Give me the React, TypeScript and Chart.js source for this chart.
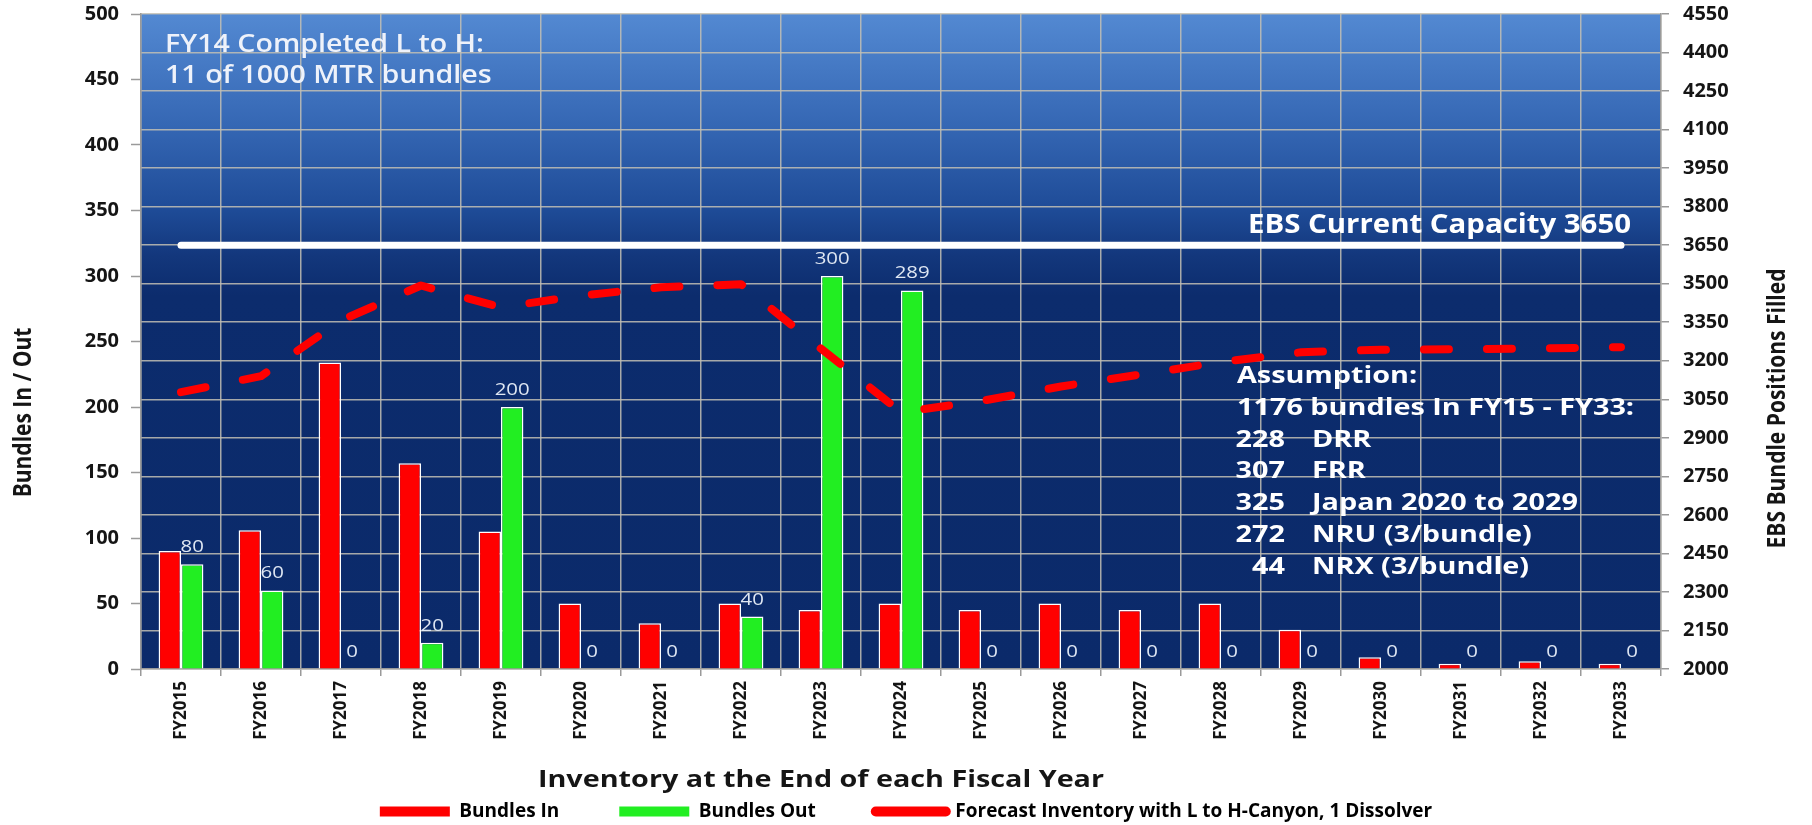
import React, { useEffect, useRef } from 'react';
import { Chart, registerables } from 'chart.js';

Chart.register(...registerables);

// ---------------- data ----------------
const categories = [
  'FY2015', 'FY2016', 'FY2017', 'FY2018', 'FY2019', 'FY2020', 'FY2021', 'FY2022', 'FY2023', 'FY2024',
  'FY2025', 'FY2026', 'FY2027', 'FY2028', 'FY2029', 'FY2030', 'FY2031', 'FY2032', 'FY2033',
];
const bundlesIn = [90, 106, 234, 157, 105, 50, 35, 50, 45, 50, 45, 50, 45, 50, 30, 9, 4, 6, 4];
const bundlesOut = [80, 60, 0, 20, 200, 0, 0, 40, 300, 289, 0, 0, 0, 0, 0, 0, 0, 0, 0];
const forecastInventory = [
  3078, 3140, 3357, 3493, 3408, 3454, 3486, 3498, 3247, 3000,
  3043, 3100, 3147, 3195, 3233, 3243, 3245, 3248, 3253,
];
const capacityValue = 3650;
const capacityLine = categories.map(() => capacityValue);

const leftAxis = { min: 0, max: 500, step: 50 };
const rightAxis = { min: 2000, max: 4550, step: 150 };

const seriesLabels = ['Bundles In', 'Bundles Out', 'Forecast Inventory with L to H-Canyon, 1 Dissolver', 'EBS Current Capacity'];
const xTitle = 'Inventory at the End of each Fiscal Year';
const leftTitle = 'Bundles In / Out';
const rightTitle = 'EBS Bundle Positions Filled';
const noteLines = ['FY14 Completed L to H:', '11 of 1000 MTR bundles'];
const capacityText = 'EBS Current Capacity 3650';
const assumptionHeader = ['Assumption:', '1176 bundles In FY15 - FY33:'];
const assumptionCounts = ['228', '307', '325', '272', '44'];
const assumptionNames = ['DRR', 'FRR', 'Japan 2020 to 2029', 'NRU (3/bundle)', 'NRX (3/bundle)'];

// ---------------- styling / layout ----------------
const FONT = "'Open Sans', 'DejaVu Sans', sans-serif";
const RED = '#ff0000';
const GREEN = '#22ee22';
const GRID = 'rgba(195,192,180,0.85)';
const TICK = '#9a9a9a';
const AXIS_TEXT = '#151515';
const PLOT_LEFT = 141;
const PLOT_RIGHT = 1661;
const PLOT_TOP = 14;
const PLOT_BOTTOM = 669;
const LAYOUT_BOTTOM = -6;
const TEXT_STRETCH = 1.2;

function stretchedText(ctx: CanvasRenderingContext2D, text: string, x: number, y: number, sx: number, align: CanvasTextAlign) {
  ctx.save();
  ctx.translate(x, y);
  ctx.scale(sx, 1);
  ctx.textAlign = align;
  ctx.fillText(text, 0, 0);
  ctx.restore();
}

function rotatedTitle(ctx: CanvasRenderingContext2D, text: string, x: number, y: number) {
  ctx.save();
  ctx.translate(x, y);
  ctx.scale(TEXT_STRETCH, 1);
  ctx.rotate(-Math.PI / 2);
  ctx.textAlign = 'center';
  ctx.textBaseline = 'middle';
  ctx.fillText(text, 0, 0);
  ctx.restore();
}

const backgroundPlugin = {
  id: 'plotBackground',
  beforeDraw(chart: any) {
    const { ctx, chartArea: a } = chart;
    if (!a) return;
    const g = ctx.createLinearGradient(0, a.top, 0, a.bottom);
    g.addColorStop(0, '#5389d2');
    g.addColorStop(0.17, '#3567b4');
    g.addColorStop(0.3, '#1e4b97');
    g.addColorStop(0.37, '#13377c');
    g.addColorStop(0.43, '#0c2c6d');
    g.addColorStop(1, '#0b2a6a');
    ctx.save();
    ctx.fillStyle = g;
    ctx.fillRect(a.left, a.top, a.right - a.left, a.bottom - a.top);
    ctx.restore();
  },
};

const valueLabelPlugin = {
  id: 'valueLabels',
  afterDatasetsDraw(chart: any) {
    const meta = chart.getDatasetMeta(1);
    const values = chart.data.datasets[1].data;
    const { ctx } = chart;
    ctx.save();
    ctx.font = `400 17px ${FONT}`;
    ctx.fillStyle = '#dfe7f3';
    ctx.textBaseline = 'alphabetic';
    meta.data.forEach((el: any, i: number) => {
      stretchedText(ctx, String(values[i]), el.x, el.y - 12, TEXT_STRETCH, 'center');
    });
    ctx.restore();
  },
};

const annotationPlugin = {
  id: 'annotations',
  afterDraw(chart: any) {
    const { ctx, chartArea: a, scales } = chart;
    if (!a) return;
    ctx.save();
    ctx.textBaseline = 'alphabetic';

    // top-left note
    ctx.fillStyle = '#eef2fa';
    ctx.font = `600 26px ${FONT}`;
    noteLines.forEach((t, i) => stretchedText(ctx, t, a.left + 24, a.top + 38 + i * 31, 1.1, 'left'));

    // capacity label
    ctx.fillStyle = '#ffffff';
    ctx.font = `700 26px ${FONT}`;
    const capX = scales.x.getPixelForValue(categories.length - 1) + 10;
    const capY = scales.y1.getPixelForValue(capacityValue) - 12;
    stretchedText(ctx, capacityText, capX, capY, 1.13, 'right');

    // assumption block
    ctx.font = `700 24px ${FONT}`;
    const bx = a.left + 1096;
    const by = 383;
    const lh = 31.8;
    assumptionHeader.forEach((t, i) => stretchedText(ctx, t, bx, by + i * lh, TEXT_STRETCH, 'left'));
    assumptionCounts.forEach((c, i) => {
      const y = by + (i + 2) * lh;
      stretchedText(ctx, c, bx + 48, y, TEXT_STRETCH, 'right');
      stretchedText(ctx, assumptionNames[i], bx + 75, y, TEXT_STRETCH, 'left');
    });

    // axis titles
    ctx.fillStyle = AXIS_TEXT;
    ctx.font = `700 21px ${FONT}`;
    const midY = (a.top + a.bottom) / 2;
    rotatedTitle(ctx, leftTitle, 24, midY + 71);
    rotatedTitle(ctx, rightTitle, 1778, midY + 67);

    ctx.font = `700 23px ${FONT}`;
    stretchedText(ctx, xTitle, (a.left + a.right) / 2 - 80, 787, 1.25, 'center');
    ctx.restore();
  },
};

const tickFont = { family: FONT, size: 20, weight: 'bold' as const };
const plainNumber = (v: any) => String(v);

export default function App() {
  const canvasRef = useRef<HTMLCanvasElement>(null);

  useEffect(() => {
    document.body.style.margin = '0';
    const canvas = canvasRef.current;
    if (!canvas) return;
    const chart = new Chart(canvas, {
      type: 'bar',
      data: {
        labels: categories,
        datasets: [
          {
            type: 'bar',
            label: seriesLabels[0],
            data: bundlesIn,
            yAxisID: 'y',
            backgroundColor: RED,
            borderColor: '#ffffff',
            borderWidth: 1.5,
            categoryPercentage: 0.56,
            barPercentage: 1,
            order: 3,
          },
          {
            type: 'bar',
            label: seriesLabels[1],
            data: bundlesOut,
            yAxisID: 'y',
            backgroundColor: GREEN,
            borderColor: '#ffffff',
            borderWidth: 1.5,
            categoryPercentage: 0.56,
            barPercentage: 1,
            order: 3,
          },
          {
            type: 'line',
            label: seriesLabels[2],
            data: forecastInventory,
            yAxisID: 'y1',
            borderColor: RED,
            backgroundColor: RED,
            borderWidth: 8,
            borderDash: [25, 38],
            borderCapStyle: 'round',
            borderJoinStyle: 'round',
            pointRadius: 0,
            tension: 0,
            fill: false,
            order: 1,
          },
          {
            type: 'line',
            label: seriesLabels[3],
            data: capacityLine,
            yAxisID: 'y1',
            borderColor: '#ffffff',
            backgroundColor: '#ffffff',
            borderWidth: 7,
            borderCapStyle: 'round',
            pointRadius: 0,
            tension: 0,
            fill: false,
            order: 2,
          },
        ],
      },
      options: {
        responsive: true,
        maintainAspectRatio: false,
        animation: false,
        events: [],
        layout: { padding: { top: PLOT_TOP, left: 0, right: 0, bottom: LAYOUT_BOTTOM } },
        plugins: {
          tooltip: { enabled: false },
          legend: {
            position: 'bottom',
            labels: {
              usePointStyle: true,
              pointStyleWidth: 70,
              boxHeight: 10,
              padding: 60,
              color: AXIS_TEXT,
              font: { family: FONT, size: 19, weight: 'bold' },
              generateLabels: (ch: any) =>
                ch.data.datasets.slice(0, 3).map((ds: any, i: number) => ({
                  text: ds.label,
                  fillStyle: i === 1 ? GREEN : RED,
                  strokeStyle: i === 1 ? GREEN : RED,
                  lineWidth: i === 2 ? 10 : 0,
                  lineCap: 'round',
                  pointStyle: i === 2 ? 'line' : 'rect',
                  hidden: false,
                  datasetIndex: i,
                })),
            },
          },
        },
        scales: {
          x: {
            type: 'category',
            offset: true,
            grid: { offset: true, color: GRID, lineWidth: 1.5, drawTicks: true, tickLength: 7, tickColor: TICK, tickWidth: 1.5 },
            border: { display: true, color: TICK, width: 1.5 },
            ticks: {
              autoSkip: false,
              minRotation: 90,
              maxRotation: 90,
              padding: 5,
              color: AXIS_TEXT,
              font: { family: FONT, size: 17, weight: 'bold' },
            },
            afterFit: (s: any) => {
              const legendH = s.chart.legend ? s.chart.legend.height : 0;
              s.height = s.chart.height - LAYOUT_BOTTOM - PLOT_BOTTOM - legendH;
              s.paddingLeft = 0;
              s.paddingRight = 0;
            },
          },
          y: {
            type: 'linear',
            position: 'left',
            min: leftAxis.min,
            max: leftAxis.max,
            ticks: { stepSize: leftAxis.step, autoSkip: false, padding: 12, color: AXIS_TEXT, font: tickFont, callback: plainNumber },
            grid: { drawOnChartArea: false, drawTicks: true, tickLength: 10, tickColor: TICK, tickWidth: 1.5 },
            border: { display: true, color: TICK, width: 1.5 },
            afterFit: (s: any) => {
              s.width = PLOT_LEFT;
              s.paddingTop = 0;
              s.paddingBottom = 0;
            },
          },
          y1: {
            type: 'linear',
            position: 'right',
            min: rightAxis.min,
            max: rightAxis.max,
            ticks: { stepSize: rightAxis.step, autoSkip: false, padding: 14, color: AXIS_TEXT, font: tickFont, callback: plainNumber },
            grid: { drawOnChartArea: true, color: GRID, lineWidth: 1.5, drawTicks: true, tickLength: 8, tickColor: TICK, tickWidth: 1.5 },
            border: { display: true, color: TICK, width: 1.5 },
            afterFit: (s: any) => {
              s.width = s.chart.width - PLOT_RIGHT;
              s.paddingTop = 0;
              s.paddingBottom = 0;
            },
          },
        },
      },
      plugins: [backgroundPlugin, valueLabelPlugin, annotationPlugin],
    } as any);
    return () => chart.destroy();
  }, []);

  return (
    <div style={{ position: 'relative', width: 1812, height: 825, background: '#ffffff' }}>
      <canvas ref={canvasRef} />
    </div>
  );
}
